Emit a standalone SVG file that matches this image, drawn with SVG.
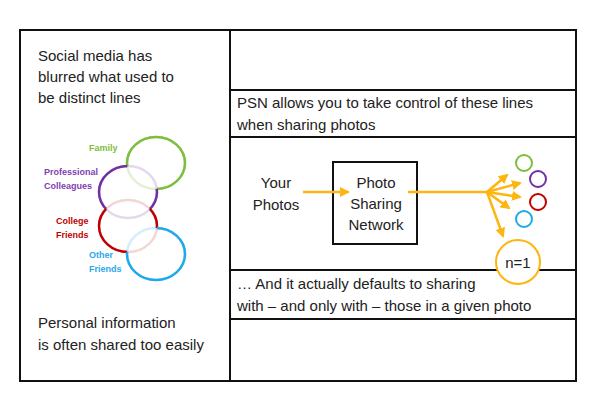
<svg xmlns="http://www.w3.org/2000/svg" width="600" height="406" viewBox="0 0 600 406">
<style>
.t{font-family:"Liberation Sans",Arial,sans-serif;font-size:15px;fill:#222}
.lbl{font-family:"Liberation Sans",Arial,sans-serif;font-size:9px;font-weight:bold}
.frame{fill:none;stroke:#111;stroke-width:2}
.arr{fill:none;stroke:#FFB50F;stroke-width:2.5}
.v{fill:none;stroke-width:2.5}
</style>
<defs>
<marker id="ah" viewBox="0 0 10 10" refX="8" refY="5" markerWidth="4" markerHeight="4" orient="auto" markerUnits="strokeWidth">
<path d="M0,0 L10,5 L0,10 z" fill="#FFB50F"/>
</marker>
<mask id="mG" maskUnits="userSpaceOnUse" x="0" y="0" width="600" height="406">
<rect width="600" height="406" fill="#fff"/>
<ellipse cx="128" cy="192" rx="29" ry="26" fill="#000"/>
</mask>
<mask id="mP" maskUnits="userSpaceOnUse" x="0" y="0" width="600" height="406">
<rect width="600" height="406" fill="#fff"/>
<ellipse cx="156" cy="163" rx="29" ry="26" fill="#000"/>
<ellipse cx="128" cy="226" rx="29" ry="26" fill="#000"/>
</mask>
<mask id="mR" maskUnits="userSpaceOnUse" x="0" y="0" width="600" height="406">
<rect width="600" height="406" fill="#fff"/>
<ellipse cx="128" cy="192" rx="29" ry="26" fill="#000"/>
<ellipse cx="156" cy="254" rx="29" ry="26" fill="#000"/>
</mask>
<mask id="mB" maskUnits="userSpaceOnUse" x="0" y="0" width="600" height="406">
<rect width="600" height="406" fill="#fff"/>
<ellipse cx="128" cy="226" rx="29" ry="26" fill="#000"/>
</mask>
</defs>
<g id="frame">
<rect class="frame" x="20" y="30" width="556" height="351" fill="#fff"/>
<line class="frame" x1="230" y1="30" x2="230" y2="381"/>
<line class="frame" x1="230" y1="90" x2="576" y2="90"/>
<line class="frame" x1="230" y1="137" x2="576" y2="137"/>
<line class="frame" x1="230" y1="270" x2="576" y2="270"/>
<line class="frame" x1="230" y1="319" x2="576" y2="319"/>
</g>
<g id="left-text">
<text class="t" x="38" y="61">Social media has</text>
<text class="t" x="38" y="82">blurred what used to</text>
<text class="t" x="38" y="103">be distinct lines</text>
<text class="t" x="38" y="328">Personal information</text>
<text class="t" x="38" y="350">is often shared too easily</text>
</g>
<g id="venn">
<ellipse class="v" cx="156" cy="163" rx="29" ry="26" stroke="#E2F0D6"/>
<ellipse class="v" cx="128" cy="192" rx="29" ry="26" stroke="#E3D8EE"/>
<ellipse class="v" cx="128" cy="226" rx="29" ry="26" stroke="#F3D6D6"/>
<ellipse class="v" cx="156" cy="254" rx="29" ry="26" stroke="#D4EEFB"/>
<ellipse class="v" cx="156" cy="163" rx="29" ry="26" stroke="#7DBE3C" mask="url(#mG)"/>
<ellipse class="v" cx="128" cy="192" rx="29" ry="26" stroke="#7030A0" mask="url(#mP)"/>
<ellipse class="v" cx="128" cy="226" rx="29" ry="26" stroke="#C00000" mask="url(#mR)"/>
<ellipse class="v" cx="156" cy="254" rx="29" ry="26" stroke="#1DA9EC" mask="url(#mB)"/>
<text class="lbl" x="89" y="151" fill="#7DBE3C">Family</text>
<text class="lbl" x="44" y="175" fill="#7F3FB0">Professional</text>
<text class="lbl" x="44" y="189" fill="#7F3FB0">Colleagues</text>
<text class="lbl" x="56" y="224" fill="#C00000">College</text>
<text class="lbl" x="56" y="238" fill="#C00000">Friends</text>
<text class="lbl" x="89" y="258" fill="#2AA8E8">Other</text>
<text class="lbl" x="89" y="272" fill="#2AA8E8">Friends</text>
</g>
<g id="right-text">
<text class="t" x="237" y="108">PSN allows you to take control of these lines</text>
<text class="t" x="237" y="130">when sharing photos</text>
<text class="t" x="237" y="289">… And it actually defaults to sharing</text>
<text class="t" x="237" y="311">with – and only with – those in a given photo</text>
</g>
<g id="your-photos">
<text class="t" x="276" y="188" text-anchor="middle">Your</text>
<text class="t" x="276" y="210" text-anchor="middle">Photos</text>
</g>
<g id="psn-box">
<rect x="333" y="162" width="84" height="82" fill="none" stroke="#111" stroke-width="2"/>
<text class="t" x="376" y="188" text-anchor="middle">Photo</text>
<text class="t" x="376" y="209" text-anchor="middle">Sharing</text>
<text class="t" x="376" y="230" text-anchor="middle">Network</text>
</g>
<g id="connectors">
<line class="arr" x1="303" y1="192" x2="348" y2="192" marker-end="url(#ah)"/>
<line class="arr" x1="408" y1="192" x2="487" y2="192"/>
<line class="arr" x1="487" y1="192" x2="507" y2="175" marker-end="url(#ah)"/>
<line class="arr" x1="487" y1="192" x2="520" y2="183" marker-end="url(#ah)"/>
<line class="arr" x1="487" y1="192" x2="520" y2="197" marker-end="url(#ah)"/>
<line class="arr" x1="487" y1="192" x2="509" y2="208" marker-end="url(#ah)"/>
<line class="arr" x1="487" y1="192" x2="503" y2="236" marker-end="url(#ah)"/>
</g>
<g id="recipients">
<circle cx="524" cy="163" r="8" fill="none" stroke="#7DBE3C" stroke-width="2"/>
<circle cx="538" cy="179" r="8" fill="none" stroke="#7030A0" stroke-width="2"/>
<circle cx="538" cy="202" r="8" fill="none" stroke="#C00000" stroke-width="2"/>
<circle cx="524" cy="219" r="8" fill="none" stroke="#1DA9EC" stroke-width="2"/>
</g>
<g id="n1">
<circle cx="518" cy="262" r="22" fill="#fff" stroke="#FFB50F" stroke-width="2"/>
<text class="t" x="518" y="268" text-anchor="middle">n=1</text>
</g>
</svg>
